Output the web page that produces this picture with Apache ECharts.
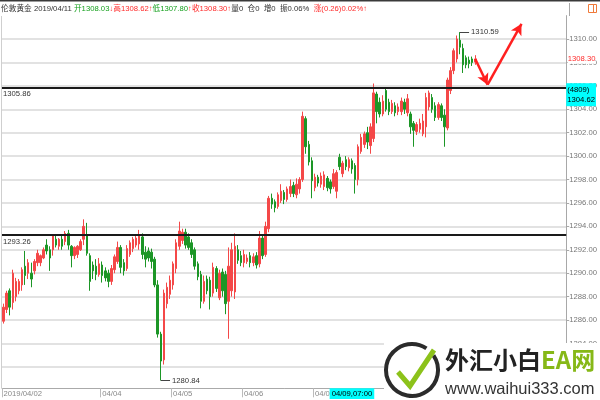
<!DOCTYPE html>
<html><head><meta charset="utf-8">
<script src="https://cdn.jsdelivr.net/npm/echarts@6/dist/echarts.min.js"></script>
<style>html,body{margin:0;padding:0;background:#fff}#c{width:600px;height:400px}</style>
</head><body><div id="c"></div>
<script>
// ---- data (hourly candles) ----
const opens = [1285.9,1286.9,1288.5,1287.5,1288.0,1288.5,1289.0,1290.6,1290.0,1290.0,1290.2,1290.9,1290.9,1291.3,1292.4,1292.0,1292.0,1292.9,1292.3,1292.9,1292.7,1293.4,1292.3,1291.5,1291.6,1292.0,1292.9,1293.3,1291.5,1290.7,
1290.6,1289.9,1290.7,1290.2,1290.0,1289.3,1290.3,1291.0,1292.2,1290.9,1290.4,1291.6,1292.1,1292.4,1292.5,1293.1,1291.8,1291.9,1291.8,1291.2,
1289.0,1284.8,1282.6,1287.4,1288.2,1289.0,1290.4,1292.3,1292.8,1293.5,1293.1,1292.6,1292.0,1290.8,1289.9,1287.6,1289.5,1289.4,1288.3,1290.4,
1287.9,1290.1,1289.9,1287.6,1288.5,1288.4,1292.0,1291.5,1290.9,1291.0,1291.5,1290.9,1291.5,1290.8,1293.0,1291.6,1293.8,1296.4,1296.1,1295.7,
1296.2,1296.9,1296.3,1296.8,1297.5,1296.7,1297.2,1298.0,1303.2,1301.0,1299.6,1297.3,1298.2,1297.6,1297.4,1298.1,1297.8,1297.4,1297.0,1299.9,
1298.5,1299.7,1299.0,1299.6,1299.2,1298.0,1300.4,1301.0,1302.0,1300.9,1301.5,1305.3,1304.6,1303.6,1305.6,1304.6,1303.8,1304.3,1303.8,1303.8,
1304.6,1303.7,1303.6,1302.8,1302.1,1302.3,1301.9,1302.5,1304.2,1305.0,1304.3,1303.3,1304.3,1303.5,1302.4,1305.6,1307.3,1308.3,1309.9,1309.2,
1308.4,1308.2,1308.3,1308.03];
const closes = [1287.1,1288.3,1287.1,1290.0,1289.3,1289.3,1290.3,1289.8,1290.9,1289.5,1291.0,1291.7,1291.5,1292.0,1291.9,1291.3,1293.2,1292.4,1292.9,1292.3,1293.4,1292.4,1291.5,1292.2,1292.3,1292.7,1294.0,1291.7,1289.3,1290.2,
1289.9,1290.8,1289.8,1289.6,1289.3,1290.4,1291.4,1292.2,1290.5,1290.2,1292.1,1292.6,1292.9,1293.0,1293.3,1291.6,1291.2,1291.3,1291.0,1289.0,
1284.8,1282.5,1288.3,1288.8,1289.4,1290.8,1292.6,1293.6,1293.5,1292.4,1292.2,1291.6,1290.6,1289.7,1287.6,1289.3,1288.5,1288.0,1290.5,1288.7,
1290.0,1288.5,1287.4,1290.6,1292.0,1292.3,1291.1,1290.9,1291.6,1291.3,1290.9,1291.4,1290.7,1293.0,1291.5,1294.0,1296.4,1295.9,1295.6,1296.7,
1297.0,1296.3,1297.2,1297.4,1296.8,1297.6,1298.0,1303.4,1300.8,1299.5,1297.9,1298.2,1297.7,1298.3,1298.4,1297.3,1297.2,1298.5,1298.6,1299.1,
1299.4,1299.1,1299.7,1298.9,1298.0,1300.8,1301.6,1301.9,1301.2,1302.5,1305.4,1303.8,1303.6,1304.7,1304.0,1303.8,1304.5,1303.7,1304.2,1304.7,
1304.0,1304.9,1302.5,1302.2,1302.7,1302.8,1303.0,1305.0,1305.4,1304.0,1303.3,1304.4,1303.3,1302.5,1306.5,1307.3,1309.0,1310.0,1309.3,1307.8,
1307.8,1307.9,1308.0,1308.30];
const lows = [1285.7,1286.6,1286.4,1286.9,1287.6,1288.2,1288.5,1289.0,1289.5,1288.8,1289.9,1290.6,1290.6,1291.2,1291.6,1290.2,1291.5,1292.2,1292.0,1292.0,1292.4,1292.0,1290.5,1291.2,1291.3,1291.9,1292.4,1291.5,1288.5,1289.5,
1289.4,1289.7,1289.2,1289.3,1288.8,1289.0,1290.0,1290.8,1290.0,1289.8,1290.2,1291.4,1291.8,1292.2,1292.0,1291.2,1290.5,1291.0,1290.4,1288.8,
1284.5,1280.84,1282.2,1287.0,1287.8,1288.6,1290.0,1292.0,1292.5,1292.1,1292.0,1291.3,1290.3,1289.4,1287.0,1287.4,1288.2,1286.9,1288.0,1288.4,
1287.7,1288.0,1286.5,1284.4,1288.0,1287.8,1290.8,1290.6,1290.5,1290.8,1290.5,1290.6,1290.4,1290.5,1291.2,1291.4,1293.5,1295.5,1295.2,1295.5,
1296.0,1295.9,1296.1,1296.5,1296.5,1296.4,1296.8,1297.8,1300.2,1299.2,1296.4,1297.0,1297.4,1297.3,1297.1,1297.0,1296.8,1297.2,1296.4,1298.8,
1298.2,1298.8,1298.7,1298.5,1296.8,1297.5,1300.2,1300.7,1300.6,1300.2,1301.2,1302.8,1303.3,1303.4,1303.8,1303.5,1303.6,1303.4,1303.5,1303.5,
1303.6,1303.4,1301.9,1300.8,1301.8,1302.0,1301.7,1301.6,1303.9,1303.7,1303.0,1303.1,1303.0,1300.8,1302.2,1305.3,1307.0,1308.0,1308.7,1307.1,
1307.5,1307.5,1307.7,1307.80];
const highs = [1287.4,1288.5,1288.7,1290.3,1289.6,1289.5,1290.5,1291.9,1291.2,1290.9,1291.2,1292.0,1291.6,1292.2,1292.9,1292.3,1293.3,1293.2,1293.0,1293.2,1293.6,1293.7,1292.4,1292.3,1292.4,1292.9,1294.6,1294.3,1291.7,1291.0,
1291.2,1291.3,1291.0,1290.5,1290.3,1290.7,1291.6,1292.7,1292.4,1291.2,1292.4,1292.8,1293.1,1293.2,1293.7,1293.4,1292.3,1292.2,1292.1,1291.4,
1289.4,1285.0,1288.6,1289.2,1289.8,1291.0,1292.9,1294.4,1293.8,1293.8,1293.4,1292.9,1292.2,1291.0,1290.2,1289.8,1289.8,1289.7,1290.9,1290.6,
1290.3,1290.4,1290.2,1292.2,1292.6,1293.4,1292.4,1291.9,1292.0,1291.6,1291.8,1291.7,1291.8,1293.6,1293.2,1294.4,1296.6,1296.8,1296.3,1296.9,
1297.6,1297.1,1297.4,1298.0,1297.8,1298.1,1298.2,1303.8,1303.4,1301.3,1299.9,1298.5,1298.4,1298.6,1298.7,1298.3,1298.0,1298.9,1298.8,1300.2,
1299.6,1300.0,1299.9,1299.8,1299.4,1301.0,1301.9,1302.1,1302.5,1302.8,1306.2,1305.5,1305.0,1305.2,1305.9,1304.9,1304.8,1304.6,1304.5,1305.0,
1304.9,1305.3,1303.8,1303.0,1302.9,1303.2,1303.6,1305.4,1305.6,1305.3,1304.6,1304.6,1304.5,1304.0,1306.7,1307.6,1309.2,1310.3,1310.59,1309.6,
1308.6,1308.5,1308.5,1308.62];

const slotCount = 183;                       // hourly slots on the time axis (incl. empty space on the right)
const tickIdx  = [0, 32, 55, 78, 101];
const tickText = ['2019/04/02', '04/04', '04/05', '04/06', '04/08'];
const levels   = [1305.86, 1293.26];          // horizontal support / resistance lines
const maxPoint = [148, 1310.59];
const minPoint = [51, 1280.84];
const cursorX  = [113, '04/09,07:00'];
const cursorY  = [1305.77, '(4809)\n1304.62'];
const arrowPath = [[153, 1308.3], [157, 1306.1], [168, 1311.3]];

// ---- build ----
const last = opens.length - 1;
const categories = Array.from({length: slotCount}, (_, i) => {
  const k = tickIdx.indexOf(i); return k >= 0 ? tickText[k] : String(i);
});
const candles = opens.map((o, i) => [o, closes[i], lows[i], highs[i]]);
const isTick = (i) => tickIdx.indexOf(i) >= 0;
const UP = '#f44848', DOWN = '#1c9626';
const FONT = '"Liberation Sans", Arial, "Noto Sans CJK SC", sans-serif';
const f2 = (v) => v.toFixed(2);
const FS = 7.7;

const markData = [];
levels.forEach(v => markData.push({
  yAxis: v,
  lineStyle: {color: '#1a1a1a', width: 2, type: 'solid'},
  label: {show: true, position: 'insideStartBottom', formatter: f2(v), color: '#333', fontSize: FS, fontFamily: FONT, distance: [1, 3]}
}));
markData.push([
  {coord: maxPoint, lineStyle: {color: '#444', width: 1, type: 'solid'},
   label: {show: true, position: 'end', formatter: f2(maxPoint[1]), color: '#333', fontSize: FS, fontFamily: FONT, distance: 2}},
  {coord: [maxPoint[0] + 3, maxPoint[1]]}
]);
markData.push([
  {coord: minPoint, lineStyle: {color: '#444', width: 1, type: 'solid'},
   label: {show: true, position: 'end', formatter: f2(minPoint[1]), color: '#333', fontSize: FS, fontFamily: FONT, distance: 2}},
  {coord: [minPoint[0] + 3, minPoint[1]]}
]);
markData.push([
  {coord: [last, closes[last]], lineStyle: {color: 'rgba(0,0,0,0)', width: 0},
   label: {show: true, position: 'end', formatter: f2(closes[last]), color: '#ff2a2a', fontSize: FS, fontFamily: FONT, distance: 3, backgroundColor: '#fff', padding: [1, 0]}},
  {coord: [slotCount - 1, closes[last]]}
]);
for (let k = 0; k < arrowPath.length - 1; k++) {
  markData.push([
    {coord: arrowPath[k], symbol: 'none', lineStyle: {color: '#ff2020', width: 2.5, type: 'solid'}, label: {show: false}},
    {coord: arrowPath[k + 1], symbol: 'arrow', symbolSize: [9, 11]}
  ]);
}

const header = '{k|伦敦黄金 2019/04/11 }{g|开' + f2(opens[last]) + '}{r|↓高' + f2(highs[last]) + '↑}{g|低' + f2(lows[last]) +
  '}{r|↑收' + f2(closes[last]) + '↑}{k|量0  仓0  增0  振0.06%  }{r|涨(0.26)0.02%↑}';

const chart = echarts.init(document.getElementById('c'), null, {renderer: 'canvas'});
chart.setOption({
  animation: false,
  backgroundColor: '#fff',
  title: {
    text: header, left: 1, top: 5, padding: 0,
    textStyle: {fontSize: FS, fontWeight: 'normal', fontFamily: FONT,
      rich: {
        k: {color: '#333', fontSize: FS, fontFamily: FONT},
        g: {color: '#16a01e', fontSize: FS, fontFamily: FONT},
        r: {color: '#ff2a2a', fontSize: FS, fontFamily: FONT}
      }}
  },
  grid: {left: 2, right: 30, top: 15.6, bottom: 9.7, containLabel: false},
  xAxis: {
    type: 'category', data: categories, boundaryGap: true, offset: -2,
    axisLine: {show: true, lineStyle: {color: '#aaa', width: 1}},
    axisTick: {show: true, interval: (i) => isTick(i), length: 9, lineStyle: {color: '#bbb'}},
    axisLabel: {interval: (i) => isTick(i), align: 'left', fontSize: FS, color: '#888', margin: 2, fontFamily: FONT},
    splitLine: {show: false},
    axisPointer: {
      show: true, status: 'show', value: cursorX[0], type: 'line', triggerTooltip: false,
      lineStyle: {width: 0, opacity: 0},
      label: {show: true, formatter: () => cursorX[1], backgroundColor: '#00ffff', color: '#000', padding: [2, 2, 1, 2],
              fontSize: FS, fontFamily: FONT, margin: 0, borderRadius: 0, shadowBlur: 0}
    }
  },
  yAxis: {
    type: 'value', position: 'right', min: 1280, max: 1312, interval: 2, scale: true,
    axisLine: {show: true, lineStyle: {color: '#a8a8a8'}},
    axisTick: {show: true, length: 3, lineStyle: {color: '#a8a8a8'}},
    axisLabel: {formatter: (v) => f2(v), color: '#777', fontSize: FS, margin: 3, fontFamily: FONT,
                showMaxLabel: false, showMinLabel: false},
    splitLine: {show: true, showMinLine: false, showMaxLine: false, lineStyle: {color: '#d8d8d8', width: 1.5}},
    axisPointer: {
      show: true, status: 'show', value: cursorY[0], type: 'line', triggerTooltip: false,
      lineStyle: {width: 0, opacity: 0},
      label: {show: true, formatter: () => cursorY[1], backgroundColor: '#00ffff', color: '#000', padding: [2, 1, 1, 1],
              fontSize: FS, lineHeight: 10, fontFamily: FONT, margin: 0, borderRadius: 0, shadowBlur: 0}
    }
  },
  series: [{
    type: 'candlestick', data: candles, barWidth: 2,
    itemStyle: {color: UP, color0: DOWN, borderColor: UP, borderColor0: DOWN, borderWidth: 1},
    markLine: {silent: true, symbol: ['none', 'none'], animation: false, precision: 2, data: markData}
  }],
  graphic: [
    {type: 'rect', shape: {x: 0, y: 0, width: 600, height: 1.5}, style: {fill: '#3a3a3a'}, silent: true},
    {type: 'line', shape: {x1: 569.5, y1: 3, x2: 569.5, y2: 16}, style: {stroke: '#a8a8a8', lineWidth: 1}, silent: true},
    {type: 'rect', shape: {x: 588.5, y: 4.5, width: 8, height: 8}, style: {fill: 'none', stroke: '#f07a3a', lineWidth: 1}, silent: true},
    {type: 'line', shape: {x1: 593.5, y1: 4.5, x2: 593.5, y2: 12.5}, style: {stroke: '#f07a3a', lineWidth: 1}, silent: true},
    {type: 'line', shape: {x1: 1.5, y1: 16, x2: 1.5, y2: 388}, style: {stroke: '#cfcfcf', lineWidth: 1}, silent: true},
    // watermark
    {type: 'rect', shape: {x: 384, y: 343, width: 216, height: 57}, style: {fill: '#fff'}, silent: true, z: 100},
    {type: 'arc', shape: {cx: 412, cy: 370, r: 26, startAngle: -0.6, endAngle: 5.3}, style: {stroke: '#2b2b2b', lineWidth: 4, fill: 'none'}, silent: true, z: 101},
    {type: 'polyline', shape: {points: [[398, 372], [410, 386], [434, 350]]}, style: {stroke: '#8cc21a', lineWidth: 5, fill: 'none'}, silent: true, z: 102},
    {type: 'text', x: 445, y: 348, style: {text: '{a|外汇小白}{b|EA网}', rich: {
        a: {fontSize: 24, fontWeight: 'bold', fill: '#222', fontFamily: '"Noto Sans CJK SC", sans-serif'},
        b: {fontSize: 24, fontWeight: 'bold', fill: '#86b817', fontFamily: '"Noto Sans CJK SC", "Liberation Sans", sans-serif'}}},
     silent: true, z: 101},
    {type: 'text', x: 445, y: 381, style: {text: 'www.waihui333.com', fontSize: 16.5, fill: '#333', fontFamily: FONT}, silent: true, z: 101}
  ]
});
</script></body></html>
